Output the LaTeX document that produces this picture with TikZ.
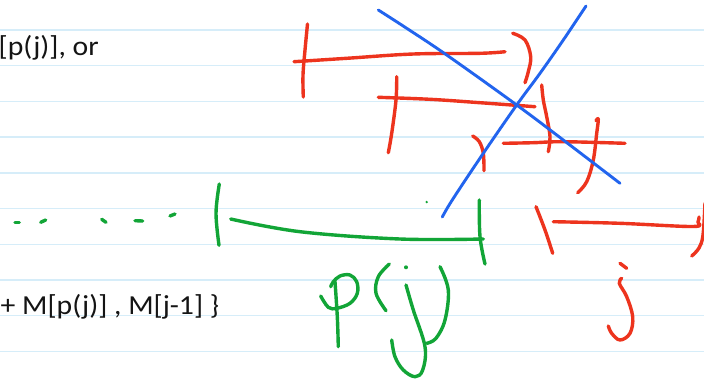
\documentclass[tikz,border=0pt]{standalone}
\usepackage{fontspec}
\setmainfont{Carlito}
\newfontfamily\notefont[FakeStretch=1.08]{Carlito}
\definecolor{paperline}{RGB}{214,237,249}
\definecolor{inkred}{RGB}{237,52,30}
\definecolor{inkblue}{RGB}{34,100,238}
\definecolor{inkgreen}{RGB}{18,165,55}
\definecolor{textink}{RGB}{20,20,20}
\begin{document}
\begin{tikzpicture}[x=1pt,y=-1pt,
  redpen/.style={draw=inkred,line width=3.4pt,line cap=round,line join=round},
  bluepen/.style={draw=inkblue,line width=2.9pt,line cap=round,line join=round},
  greenpen/.style={draw=inkgreen,line width=3.4pt,line cap=round,line join=round},
  typed/.style={anchor=base west,inner sep=0pt,text=textink,font=\notefont\fontsize{27.5}{33}\selectfont}]
\useasboundingbox (0,0) rectangle (704,384);
\fill[white] (0,0) rectangle (704,384);
\foreach \k in {0,...,9} {
  \draw[paperline,line width=1.4pt] (0,{30+35.7*\k}) -- (704,{30+35.7*\k});
}
% typed text
\node[typed] (t1) at (-1.5,55.3) {[p(j)], or};
\node[typed] (t2) at (0.5,314.3) {+ M[p(j)] , M[j-1] \}};

% red strokes (top cluster)
\draw[redpen] plot[smooth,tension=0.6] coordinates {(307.5,24) (305,50) (303,75) (303.3,97)};
\draw[redpen] plot[smooth,tension=0.6] coordinates {(294,61.7) (346.7,58.3) (413.3,54) (480,53.3) (505,51.7)};
\draw[redpen] plot[smooth,tension=0.6] coordinates {(512.7,33.3) (525,40) (530.7,56.7) (528.3,71.7) (525,82.7)};
\draw[redpen] plot[smooth,tension=0.6] coordinates {(378.3,97.3) (430,99.3) (480,102.7) (535,106.7)};
\draw[redpen] plot[smooth,tension=0.6] coordinates {(396.7,76.7) (396,100) (391.7,133.3) (388.3,152.7)};
\draw[redpen] plot[smooth,tension=0.6] coordinates {(472.7,136) (479.3,141.7) (483.3,153.3) (484,170.7)};
\draw[redpen] plot[smooth,tension=0.6] coordinates {(541.7,85) (543.3,100) (546.7,116.7) (550,136.7) (548.3,151.7)};
\draw[redpen] plot[smooth,tension=0.6] coordinates {(503.3,143.3) (533.3,142.7) (563.3,141.7) (625,143.3)};
\draw[redpen] plot[smooth,tension=0.6] coordinates {(596,120.7) (598.3,119.3) (596.7,133.3) (593.3,160) (586.7,181.7) (577.7,192.7)};

% blue strokes
\draw[bluepen] plot[smooth,tension=0.6] coordinates {(378.3,10) (406.7,28.3) (446.7,55) (516.7,105) (563.3,140) (620,183.3)};
\draw[bluepen] plot[smooth,tension=0.6] coordinates {(586,6) (563.3,40) (540,73.3) (516.7,105) (483.3,153.3) (452.7,199.3) (442.3,217)};

% green strokes
\foreach \a/\b/\c/\d in {15/222.3/19.3/222.3, 40.7/222.3/45.7/220, 101.7/219.3/106/222.3, 135/220.7/142.7/221, 170/216/175/214} {
  \draw[greenpen] (\a,\b) -- (\c,\d);
}
\fill[inkgreen] (426.7,202) circle (1.3pt);
\draw[greenpen] plot[smooth,tension=0.6] coordinates {(219.3,184) (216,213.3) (219,245.3)};
\draw[greenpen] plot[smooth,tension=0.6] coordinates {(230.7,219) (300,231.7) (400,239) (483.3,239)};
\draw[greenpen] plot[smooth,tension=0.6] coordinates {(479.3,200) (480,236.7) (485,264)};
% p(j)
\draw[greenpen] plot[smooth,tension=0.6] coordinates {(335,281.7) (337.3,316.7) (338.3,346.7)};
\draw[greenpen] plot[smooth,tension=0.6] coordinates {(320.7,296) (328.3,307.3) (336.7,308.3) (350,303.3) (357.3,293.3) (356.7,281.7) (350,275) (340,276) (333.3,281.7) (330.7,286.7)};
\draw[greenpen] plot[smooth,tension=0.6] coordinates {(389.3,264) (378.3,276.7) (376,293.3) (386,310.7)};
\fill[inkgreen] (406,267.3) circle (2pt);
\draw[greenpen] plot[smooth,tension=0.6] coordinates {(406,285) (413.3,310) (425,346.7) (422.7,370) (415,376.7) (403.3,370) (395,356.7) (391.7,340)};
\draw[greenpen] plot[smooth,tension=0.6] coordinates {(440,266.7) (448.3,290) (445,320) (436,338.3) (426.7,343.3)};

% red strokes (bottom right)
\draw[redpen] plot[smooth,tension=0.6] coordinates {(536,206.7) (545,230) (552.7,253.3)};
\draw[redpen] plot[smooth,tension=0.6] coordinates {(553.3,221.7) (620,223.3) (693,226.5) (698,222) (699,217)};
\draw[redpen] plot[smooth,tension=0.6] coordinates {(705,203) (703,235) (699,248) (691.7,256)};
\draw[redpen] (620,263.3) -- (626.7,268.3);
\draw[redpen] plot[smooth,tension=0.6] coordinates {(621.7,278.3) (619.3,283.3) (626.7,296.7) (632.7,316.7) (630,333.3) (620,340) (611.7,333.3) (608.3,326)};
\end{tikzpicture}
\end{document}
